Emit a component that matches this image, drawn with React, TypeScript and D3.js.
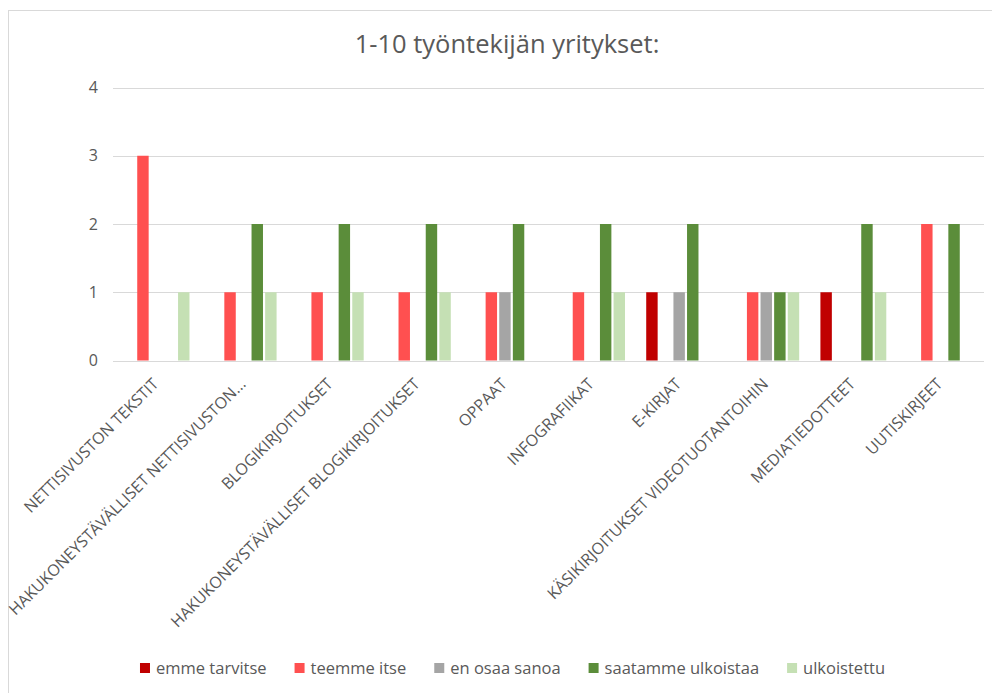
import React, { useEffect, useRef } from "react";
import * as d3 from "d3";

// Content types asked about (x-axis categories)
const categories: string[] = [
  "NETTISIVUSTON TEKSTIT",
  "HAKUKONEYSTÄVÄLLISET NETTISIVUSTON...",
  "BLOGIKIRJOITUKSET",
  "HAKUKONEYSTÄVÄLLISET BLOGIKIRJOITUKSET",
  "OPPAAT",
  "INFOGRAFIIKAT",
  "E-KIRJAT",
  "KÄSIKIRJOITUKSET VIDEOTUOTANTOIHIN",
  "MEDIATIEDOTTEET",
  "UUTISKIRJEET",
];

// Answer options (series)
const seriesNames: string[] = [
  "emme tarvitse",
  "teemme itse",
  "en osaa sanoa",
  "saatamme ulkoistaa",
  "ulkoistettu",
];
const seriesColors: string[] = ["#C00000", "#FF5050", "#A5A5A5", "#5B8D3A", "#C5E0B4"];

// Number of answers per category, one array per series
const emmeTarvitse: number[] = [0, 0, 0, 0, 0, 0, 1, 0, 1, 0];
const teemmeItse: number[] = [3, 1, 1, 1, 1, 1, 0, 1, 0, 2];
const enOsaaSanoa: number[] = [0, 0, 0, 0, 1, 0, 1, 1, 0, 0];
const saatammeUlkoistaa: number[] = [0, 2, 2, 2, 2, 2, 2, 1, 2, 2];
const ulkoistettu: number[] = [1, 1, 1, 1, 0, 1, 0, 1, 1, 0];

const yTicks: number[] = [0, 1, 2, 3, 4];
const title = "1-10 työntekijän yritykset:";

const W = 992;
const H = 693;
const FONT = "'Open Sans', 'Liberation Sans', sans-serif";
const TEXT = "#595959";
const GRID = "#D9D9D9";

export default function App() {
  const ref = useRef<SVGSVGElement | null>(null);

  useEffect(() => {
    const svg = d3.select(ref.current);
    svg.selectAll("*").remove();

    const series = [emmeTarvitse, teemmeItse, enOsaaSanoa, saatammeUlkoistaa, ulkoistettu];

    const plot = { left: 113, right: 984, top: 87.5, bottom: 360.5 };

    // chart frame
    svg
      .append("rect")
      .attr("x", 8.5)
      .attr("y", 10.5)
      .attr("width", 1200)
      .attr("height", 1200)
      .attr("fill", "#fff")
      .attr("stroke", GRID)
      .attr("stroke-width", 1);

    // title
    svg
      .append("text")
      .attr("x", 507)
      .attr("y", 53)
      .attr("text-anchor", "middle")
      .attr("font-family", FONT)
      .attr("font-size", 25.5)
      .attr("fill", TEXT)
      .text(title);

    const y = d3.scaleLinear().domain([0, 4]).range([plot.bottom, plot.top]);
    const x0 = d3
      .scaleBand<string>()
      .domain(categories)
      .range([plot.left, plot.right])
      .paddingInner(0)
      .paddingOuter(0);
    const slotPad = 0.7; // space around each cluster, in slot units
    const x1 = d3
      .scaleBand<string>()
      .domain(seriesNames)
      .range([0, x0.bandwidth()])
      .paddingInner(0)
      .paddingOuter(slotPad);

    // gridlines and value ticks
    const grid = svg.append("g");
    yTicks.forEach((t) => {
      grid
        .append("line")
        .attr("x1", plot.left)
        .attr("x2", plot.right)
        .attr("y1", Math.round(y(t)) + 0.5)
        .attr("y2", Math.round(y(t)) + 0.5)
        .attr("stroke", GRID)
        .attr("stroke-width", 1);
      grid
        .append("text")
        .attr("x", 98)
        .attr("y", y(t))
        .attr("dy", "0.35em")
        .attr("text-anchor", "end")
        .attr("font-family", FONT)
        .attr("font-size", 16)
        .attr("fill", TEXT)
        .text(String(t));
    });

    // bars
    const barW = x1.bandwidth() * 0.84;
    series.forEach((vals, si) => {
      const g = svg.append("g").attr("fill", seriesColors[si]);
      vals.forEach((v, ci) => {
        if (v <= 0) return;
        const cx = (x0(categories[ci]) as number) + (x1(seriesNames[si]) as number) + x1.bandwidth() / 2;
        g.append("rect")
          .attr("x", cx - barW / 2)
          .attr("y", y(v))
          .attr("width", barW)
          .attr("height", y(0) - y(v));
      });
    });

    // category labels
    const xl = svg.append("g");
    categories.forEach((c) => {
      const cx = (x0(c) as number) + x0.bandwidth() / 2;
      xl.append("text")
        .attr("transform", `translate(${cx + 3},${385}) rotate(-45)`)
        .attr("text-anchor", "end")
        .attr("font-family", FONT)
        .attr("font-size", 16)
        .attr("fill", TEXT)
        .text(c);
    });

    // legend
    const lg = svg.append("g");
    const sq = 10;
    const gapAfterSquare = 6;
    const gapBetween = 28;
    const items: { node: SVGTextElement; w: number }[] = [];
    seriesNames.forEach((n) => {
      const t = lg
        .append("text")
        .attr("font-family", FONT)
        .attr("font-size", 16.5)
        .attr("fill", TEXT)
        .attr("y", 668)
        .attr("dy", "0.35em")
        .text(n);
      const node = t.node() as SVGTextElement;
      items.push({ node, w: node.getComputedTextLength() });
    });
    const total =
      items.reduce((s, it) => s + sq + gapAfterSquare + it.w, 0) + gapBetween * (items.length - 1);
    let xCur = 512.5 - total / 2;
    items.forEach((it, i) => {
      lg.append("rect")
        .attr("x", xCur)
        .attr("y", 668 - sq / 2)
        .attr("width", sq)
        .attr("height", sq)
        .attr("fill", seriesColors[i]);
      d3.select(it.node).attr("x", xCur + sq + gapAfterSquare);
      xCur += sq + gapAfterSquare + it.w + gapBetween;
    });
  }, []);

  return (
    <div style={{ position: "absolute", left: 0, top: 0, width: W, height: H, overflow: "hidden", background: "#fff" }}>
      <svg ref={ref} width={W} height={H} />
    </div>
  );
}
